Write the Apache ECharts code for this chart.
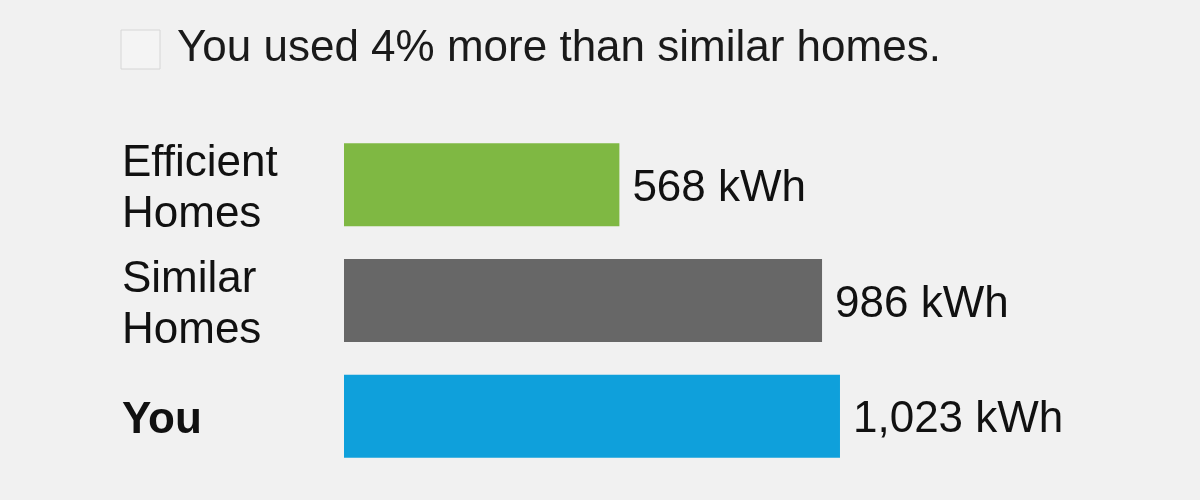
<!DOCTYPE html>
<html>
<head>
<meta charset="utf-8">
<script src="https://cdn.jsdelivr.net/npm/echarts@6/dist/echarts.min.js"></script>
<style>
html,body{margin:0;padding:0;background:#f1f1f1;}
#c{width:1200px;height:500px;}
</style>
</head>
<body>
<div id="c"></div>
<script>
const categories = ['Efficient\nHomes', 'Similar\nHomes', 'You'];
const usageKWh = [568, 986, 1023];
const barColors = ['#7fb843', '#676767', '#0fa0db'];
const headline = 'You used 4% more than similar homes.';
const unit = ' kWh';

const chart = echarts.init(document.getElementById('c'));
const font = 'Liberation Sans, Arial, sans-serif';
chart.setOption({
  backgroundColor: '#f1f1f1',
  animation: false,
  title: {
    text: headline,
    left: 172,
    top: 22,
    textStyle: { fontFamily: font, fontSize: 44, fontWeight: 'normal', color: '#1a1a1a' }
  },
  graphic: [{
    type: 'rect',
    shape: { x: 121, y: 30, width: 39, height: 39 },
    style: { fill: '#f4f4f4', stroke: '#d6d6d6', lineWidth: 1 }
  }],
  grid: { left: 344, top: 127, width: 703, height: 347 },
  xAxis: {
    type: 'value', min: 0, max: 1450,
    show: false
  },
  yAxis: {
    type: 'category',
    inverse: true,
    data: categories,
    axisLine: { show: false },
    axisTick: { show: false },
    axisLabel: {
      align: 'left',
      margin: 222,
      fontFamily: font,
      fontSize: 44,
      lineHeight: 51,
      padding: [10, 0, 0, 0],
      color: '#111',
      formatter: function (v) { return v === 'You' ? '{b|' + v + '}' : v; },
      rich: { b: { fontFamily: font, fontSize: 44, fontWeight: 'bold', color: '#111' } }
    }
  },
  series: [{
    type: 'bar',
    barWidth: 83,
    data: usageKWh.map((v, i) => ({ value: v, itemStyle: { color: barColors[i] } })),
    label: {
      show: true,
      position: 'right',
      distance: 13,
      offset: [0, 4],
      fontFamily: font,
      fontSize: 44,
      color: '#111',
      formatter: p => p.value.toLocaleString('en-US') + unit
    }
  }]
});
</script>
</body>
</html>
